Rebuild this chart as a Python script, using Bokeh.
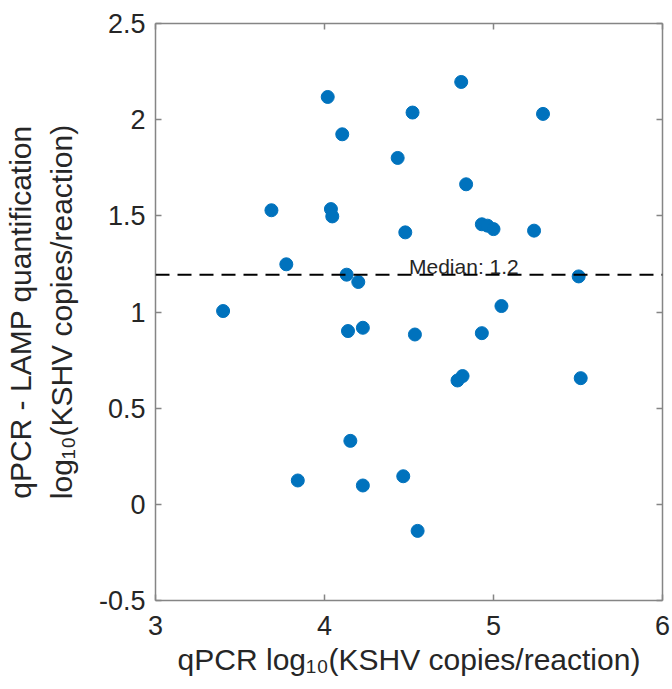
import numpy as np
from bokeh.plotting import figure
from bokeh.models import LinearAxis, FixedTicker, Label, Span
from bokeh.embed import file_html
from bokeh.resources import INLINE

# ---- data ----
qpcr_log = [3.40, 3.686, 3.774, 4.019, 4.105, 4.038, 4.046, 4.131, 4.200, 4.433,
            4.809, 4.521, 5.293, 4.838, 4.931, 4.964, 5.000, 5.240, 4.478, 5.504,
            5.047, 4.139, 4.227, 4.153, 3.842, 4.227, 4.535, 4.931, 4.787, 4.817,
            5.516, 4.466, 4.551]
diff_log = [1.005, 1.529, 1.248, 2.118, 1.924, 1.535, 1.497, 1.194, 1.156, 1.801,
            2.196, 2.037, 2.030, 1.664, 1.456, 1.449, 1.431, 1.423, 1.414, 1.185,
            1.031, 0.901, 0.918, 0.330, 0.124, 0.098, 0.883, 0.890, 0.644, 0.667,
            0.656, 0.146, -0.138]

x_ticks = [3, 4, 5, 6]
x_tick_labels = ["3", "4", "5", "6"]
y_ticks = [-0.5, 0, 0.5, 1, 1.5, 2, 2.5]
y_tick_labels = ["-0.5", "0", "0.5", "1", "1.5", "2", "2.5"]

x_label = "qPCR log\u2081\u2080(KSHV copies/reaction)"
y_label = "qPCR - LAMP quantification\nlog\u2081\u2080(KSHV copies/reaction)"

median_val = float(np.median(diff_log))
median_text = "Median: %.1f" % median_val

# ---- styling ----
FONT = "Liberation Sans"
DOT = "#0072BD"
AX = "#858585"
TXT = "#262626"

p = figure(width=672, height=689, x_range=(3, 6), y_range=(-0.5, 2.5),
           output_backend="svg", toolbar_location=None,
           min_border_left=154, min_border_right=10,
           min_border_top=23, min_border_bottom=89)
p.background_fill_color = "white"
p.border_fill_color = "white"
p.outline_line_color = None
p.xgrid.visible = False
p.ygrid.visible = False

xa = p.xaxis[0]
xa.ticker = FixedTicker(ticks=x_ticks)
xa.major_label_overrides = {t: l for t, l in zip(x_ticks, x_tick_labels)}
ya = p.yaxis[0]
ya.ticker = FixedTicker(ticks=y_ticks)
ya.major_label_overrides = {t: l for t, l in zip(y_ticks, y_tick_labels)}
for ax in (xa, ya):
    ax.axis_line_color = AX
    ax.axis_line_width = 1.5
    ax.major_tick_line_color = AX
    ax.major_tick_line_width = 1.5
    ax.major_tick_in = 6
    ax.major_tick_out = 0
    ax.minor_tick_in = 0
    ax.minor_tick_out = 0
    ax.major_label_text_font = FONT
    ax.major_label_text_font_size = "27px"
    ax.major_label_text_color = TXT
    ax.axis_label_text_font = FONT
    ax.axis_label_text_font_size = "30px"
    ax.axis_label_text_font_style = "normal"
    ax.axis_label_text_color = TXT
    ax.axis_label_text_line_height = 1.25
xa.major_label_standoff = 15
ya.major_label_standoff = 10
xa.axis_label = x_label
ya.axis_label = y_label
xa.axis_label_standoff = 5
ya.axis_label_standoff = 18

# top / right axes: box with inward ticks, labels not drawn
top = LinearAxis(ticker=FixedTicker(ticks=x_ticks))
right = LinearAxis(ticker=FixedTicker(ticks=y_ticks))
for ax in (top, right):
    ax.axis_line_color = AX
    ax.axis_line_width = 1.5
    ax.major_tick_line_color = AX
    ax.major_tick_line_width = 1.5
    ax.major_tick_in = 6
    ax.major_tick_out = 0
    ax.minor_tick_in = 0
    ax.minor_tick_out = 0
    ax.major_label_text_font_size = "1px"
    ax.major_label_text_color = None
    ax.major_label_standoff = 0
p.add_layout(top, "above")
p.add_layout(right, "right")

# points
p.scatter(qpcr_log, diff_log, size=13, fill_color=DOT, line_color=DOT)

# median line and label
p.add_layout(Span(location=median_val, dimension="width", line_color="black",
                  line_width=2, line_dash="14 8"))
p.add_layout(Label(x=4.5, y=median_val, y_offset=8, text=median_text,
                   text_font=FONT, text_font_size="21px", text_color=TXT,
                   text_align="left", text_baseline="alphabetic"))

open("out.html", "w").write(file_html(p, INLINE))
